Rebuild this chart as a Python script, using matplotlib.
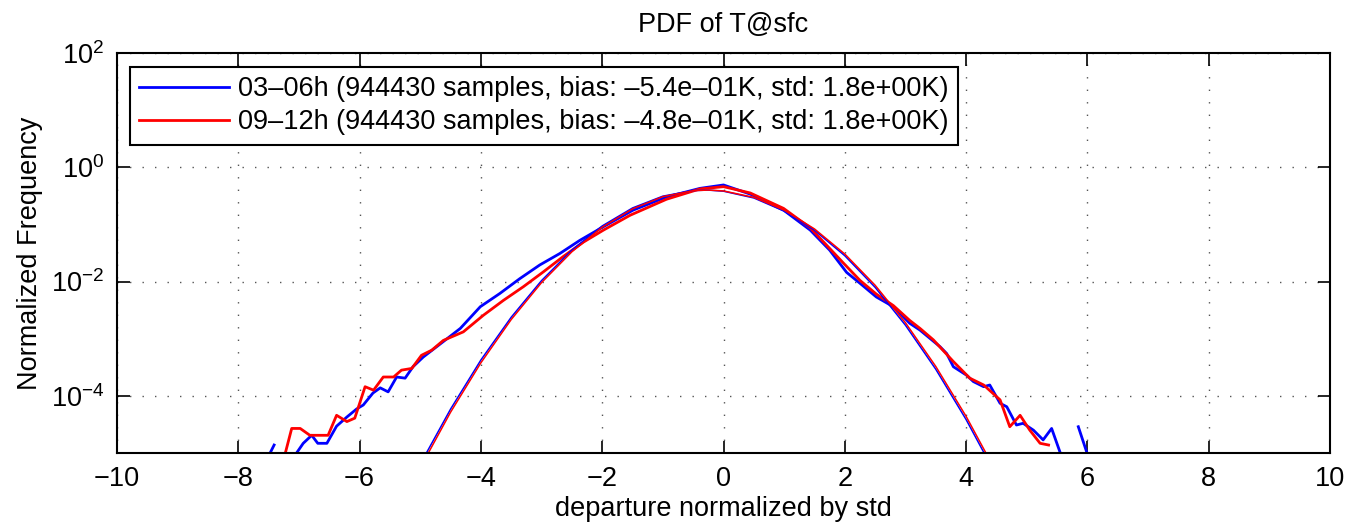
import numpy as np
import matplotlib
matplotlib.use("Agg")
import matplotlib.pyplot as plt

plt.rcParams["font.family"] = ["Liberation Sans", "DejaVu Sans"]
plt.rcParams["mathtext.fontset"] = "custom"
plt.rcParams["mathtext.rm"] = "Liberation Sans"
plt.rcParams["mathtext.it"] = "Liberation Sans"

# empirical pdf, 03-06h (x, log10 of frequency; nan = empty bin)
blue_x = [-7.50, -7.41, -7.30, -7.04, -6.93, -6.79, -6.69, -6.54, -6.38, -6.21,
          -6.05, -5.94, -5.78, -5.66, -5.53, -5.39, -5.25, -5.12, -4.95, -4.73,
          -4.51, -4.34, -4.01, -3.69, -3.36, -3.03, -2.70, -2.37, -1.98, -1.49,
          -0.94, -0.39, 0.00, 0.44, 0.99, 1.43, 1.75, 2.03, 2.25, 2.52, 2.80,
          3.07, 3.24, 3.57, 3.68, 3.79, 4.01, 4.12, 4.29, 4.39, 4.56,
          4.67, 4.83, 4.94, 5.11, 5.27, 5.41, 5.56, 5.70, 5.85, 6.00]
blue_log = [-5.05, -4.86, np.nan, -5.00, -4.83, -4.69, -4.83, -4.83, -4.53, -4.37,
            -4.23, -4.16, -3.95, -3.86, -3.93, -3.67, -3.69, -3.49, -3.32, -3.14,
            -2.96, -2.82, -2.44, -2.21, -1.95, -1.71, -1.51, -1.28, -1.04, -0.75,
            -0.52, -0.37, -0.31, -0.47, -0.75, -1.10, -1.45, -1.84, -2.03, -2.27, -2.44,
            -2.73, -2.85, -3.14, -3.26, -3.49, -3.64, -3.75, -3.84, -3.81, -4.13,
            -4.19, -4.51, -4.48, -4.60, -4.77, -4.57, -5.02, np.nan, -4.54, -5.02]

# empirical pdf, 09-12h
red_x = [-7.23, -7.12, -6.98, -6.82, -6.52, -6.38, -6.21, -6.08, -5.91, -5.77,
         -5.61, -5.44, -5.31, -5.14, -4.98, -4.81, -4.62, -4.29, -3.96, -3.63,
         -3.30, -2.97, -2.64, -2.31, -1.98, -1.54, -0.94, -0.39, 0.00, 0.44,
         0.99, 1.43, 1.98, 2.25, 2.52, 2.80, 3.07, 3.24, 3.46, 3.79,
         4.06, 4.29, 4.56, 4.72, 4.89, 5.05, 5.22, 5.36]
red_log = [-5.02, -4.57, -4.57, -4.69, -4.69, -4.34, -4.45, -4.39, -3.84, -3.90,
           -3.67, -3.67, -3.55, -3.52, -3.29, -3.20, -3.03, -2.88, -2.59, -2.33,
           -2.09, -1.83, -1.56, -1.31, -1.10, -0.84, -0.56, -0.38, -0.34, -0.45,
           -0.72, -1.06, -1.68, -1.98, -2.22, -2.42, -2.68, -2.82, -3.02, -3.40,
           -3.69, -3.81, -4.07, -4.54, -4.34, -4.60, -4.83, -4.86]

# fitted gaussian curves
fit_x = [-5.0, -4.5, -4.0, -3.5, -3.0, -2.5, -2.0, -1.5, -1.0, -0.5, -0.25,
         0.0, 0.5, 1.0, 1.5, 2.0, 2.5, 3.0, 3.5, 4.0, 4.5]
blue_fit = [6.4e-6, 5.88e-5, 4.25e-4, 2.38e-3, 1.04e-2, 3.55e-2, 0.094, 0.194,
            0.312, 0.391, 0.398, 0.381, 0.290, 0.171, 0.079, 0.0283, 7.92e-3,
            1.72e-3, 2.92e-4, 3.85e-5, 3.97e-6]
red_fit = [5.52e-6, 5.19e-5, 3.80e-4, 2.17e-3, 9.61e-3, 3.32e-2, 0.0894, 0.187,
           0.306, 0.389, 0.399, 0.385, 0.297, 0.178, 0.0833, 0.0303, 8.61e-3,
           1.90e-3, 3.27e-4, 4.38e-5, 4.57e-6]

labels = ["03\u201306h (944430 samples, bias: \u20135.4e\u201301K, std: 1.8e+00K)",
          "09\u201312h (944430 samples, bias: \u20134.8e\u201301K, std: 1.8e+00K)"]

FS = 19.5

fig = plt.figure(figsize=(13.53, 5.23), dpi=100)
ax = fig.add_axes([0.0865, 0.1338, 0.8965, 0.765])

ax.semilogy(blue_x, 10 ** np.array(blue_log), color="#0000ff", lw=2.0, label=labels[0])
ax.semilogy(red_x, 10 ** np.array(red_log), color="#ff0000", lw=2.0, label=labels[1])
ax.semilogy(fit_x, blue_fit, color="#0000ff", lw=1.1)
ax.semilogy(fit_x, red_fit, color="#ff0000", lw=1.1)

ax.set_xlim(-10, 10)
ax.set_ylim(1e-5, 1e2)
ax.set_xticks(np.arange(-10, 11, 2))
ax.set_yticks([1e-4, 1e-2, 1e0, 1e2])
ax.minorticks_off()
ax.tick_params(direction="in", length=9, width=1.2, top=True, right=True,
               labelsize=FS, pad=9)
ax.grid(True, color="#555555", lw=1.0, linestyle=(0, (1, 8)))
for s in ax.spines.values():
    s.set_linewidth(1.5)

ax.set_title("PDF of T@sfc", fontsize=FS, pad=15)
ax.set_xlabel("departure normalized by std", fontsize=FS, labelpad=3)
ax.set_ylabel("Normalized Frequency", fontsize=FS, labelpad=6)

leg = ax.legend(loc="upper left", bbox_to_anchor=(0.0107, 0.965), borderaxespad=0,
                fontsize=FS, handlelength=3.3, handletextpad=0.35, labelspacing=0.25,
                borderpad=0.35, fancybox=False, framealpha=1, edgecolor="black")
leg.get_frame().set_linewidth(1.5)

fig.savefig("out.png", dpi=100)
